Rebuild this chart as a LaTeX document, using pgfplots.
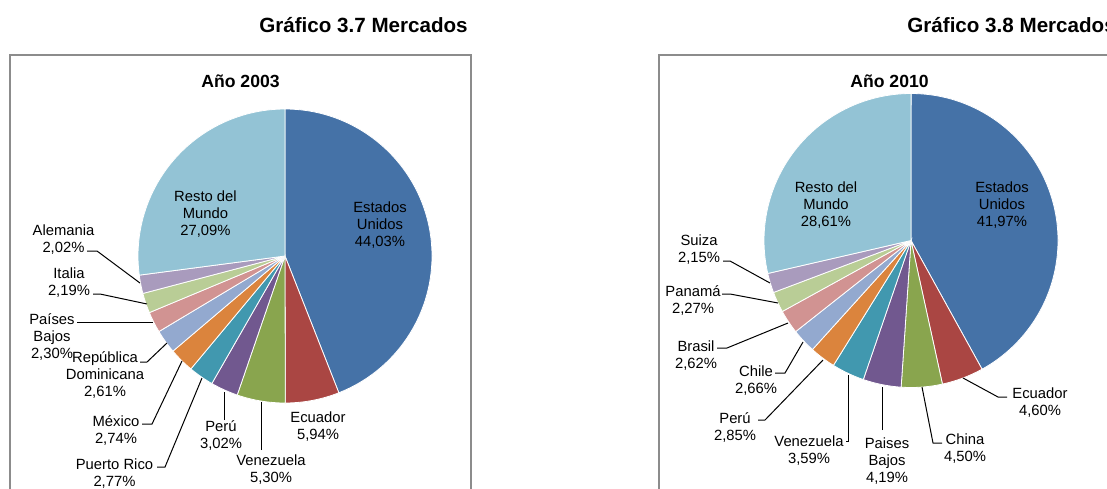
\documentclass[border=0pt]{standalone}
\usepackage{fontspec}
\setmainfont{Liberation Sans}
\usepackage{pgfplots}
\usepackage{pgfplotstable}
\pgfplotsset{compat=1.18}

\definecolor{cA}{HTML}{4572A7}
\definecolor{cB}{HTML}{AA4643}
\definecolor{cC}{HTML}{89A54E}
\definecolor{cD}{HTML}{71588F}
\definecolor{cE}{HTML}{4198AF}
\definecolor{cF}{HTML}{DB843D}
\definecolor{cG}{HTML}{93A9CF}
\definecolor{cH}{HTML}{D19392}
\definecolor{cI}{HTML}{B9CD96}
\definecolor{cJ}{HTML}{A99BBD}
\definecolor{cK}{HTML}{93C3D5}
\definecolor{boxgray}{HTML}{8C8C8C}

% Año 2003
\pgfplotstableread{
value col
44.03 cA
5.94 cB
5.30 cC
3.02 cD
2.77 cE
2.74 cF
2.61 cG
2.30 cH
2.19 cI
2.02 cJ
27.09 cK
}\tabA

% Año 2010
\pgfplotstableread{
value col
41.97 cA
4.60 cB
4.50 cC
4.19 cD
3.59 cE
2.85 cF
2.66 cG
2.62 cH
2.27 cI
2.15 cJ
28.61 cK
}\tabB

\newcommand\buildpie[4]{%
  \gdef#4{}%
  \pgfplotstablegetrowsof{#1}%
  \pgfmathtruncatemacro\pielastrow{\pgfplotsretval-1}%
  \def\piecum{0}%
  \pgfplotsforeachungrouped \pieidx in {0,...,\pielastrow}{%
    \pgfplotstablegetelem{\pieidx}{value}\of#1\let\pieval\pgfplotsretval
    \pgfplotstablegetelem{\pieidx}{col}\of#1\let\piecol\pgfplotsretval
    \pgfmathsetmacro\piestart{90-3.6*\piecum}%
    \pgfmathsetmacro\piecum{\piecum+\pieval}%
    \pgfmathsetmacro\pieend{90-3.6*\piecum}%
    \xdef#4{\unexpanded\expandafter{#4}\noexpand\fill[\piecol,draw=white,line width=0.4pt] (axis cs:#2,#3) -- ++(\piestart:73.5pt) arc[start angle=\piestart,end angle=\pieend,radius=73.5pt] -- cycle;}%
  }%
}

\begin{document}
\buildpie{\tabA}{285}{256}{\pieA}%
\buildpie{\tabB}{911}{240.5}{\pieB}%
\begin{tikzpicture}[
  lbl/.style={font=\fontsize{7.4}{8.5}\selectfont,align=center,inner sep=0pt,text=black},
  ld/.style={draw=black,line width=0.5pt}]
\begin{axis}[at={(0,0)},anchor=south west,
  width=553.5pt,height=244pt,scale only axis,
  xmin=0,xmax=1107,ymin=0,ymax=488,y dir=reverse,
  hide axis,clip=true]
% panel boxes
\draw[boxgray,line width=0.8pt] (axis cs:10,55) rectangle (axis cs:471,520);
\draw[boxgray,line width=0.8pt] (axis cs:659,55) rectangle (axis cs:1130,520);
% titles
\node[anchor=base,font=\fontsize{10.3}{12}\selectfont\bfseries,inner sep=0pt] at (axis cs:363.5,32) {Gráfico 3.7 Mercados};
\node[anchor=base west,font=\fontsize{10.3}{12}\selectfont\bfseries,inner sep=0pt] at (axis cs:907,32) {Gráfico 3.8 Mercados};
\node[anchor=base,font=\fontsize{8.8}{10}\selectfont\bfseries,inner sep=0pt] at (axis cs:240.5,87) {Año 2003};
\node[anchor=base,font=\fontsize{8.8}{10}\selectfont\bfseries,inner sep=0pt] at (axis cs:889.5,87) {Año 2010};
% pies
\pieA
\pieB
% labels 2003
\node[lbl] at (axis cs:380,225) {Estados\\Unidos\\44,03\%};
\node[lbl] at (axis cs:205.5,214) {Resto del\\Mundo\\27,09\%};
\node[lbl] at (axis cs:63.5,240) {Alemania\\2,02\%};
\node[lbl] at (axis cs:69,283) {Italia\\2,19\%};
\node[lbl] at (axis cs:52,337) {Países\\Bajos\\2,30\%};
\node[lbl] at (axis cs:105,375) {República\\Dominicana\\2,61\%};
\node[lbl] at (axis cs:116,430) {México\\2,74\%};
\node[lbl] at (axis cs:114.5,474) {Puerto Rico\\2,77\%};
\node[lbl] at (axis cs:221,435) {Perú\\3,02\%};
\node[lbl] at (axis cs:271,470) {Venezuela\\5,30\%};
\node[lbl] at (axis cs:318,427) {Ecuador\\5,94\%};
\draw[ld] (axis cs:87,251) -- (axis cs:97,251) -- (axis cs:140,283);
\draw[ld] (axis cs:93,294) -- (axis cs:100,294) -- (axis cs:147,304);
\draw[ld] (axis cs:77,322) -- (axis cs:153,322);
\draw[ld] (axis cs:140,362) -- (axis cs:147,362) -- (axis cs:167,343);
\draw[ld] (axis cs:142,424) -- (axis cs:152,424) -- (axis cs:182,361);
\draw[ld] (axis cs:157,467) -- (axis cs:165,467) -- (axis cs:202,378);
\draw[ld] (axis cs:224,420) -- (axis cs:224,392);
\draw[ld] (axis cs:261,450) -- (axis cs:261,402);
% labels 2010
\node[lbl] at (axis cs:1002,205) {Estados\\Unidos\\41,97\%};
\node[lbl] at (axis cs:826,205) {Resto del\\Mundo\\28,61\%};
\node[lbl] at (axis cs:699,250) {Suiza\\2,15\%};
\node[lbl] at (axis cs:693,300) {Panamá\\2,27\%};
\node[lbl] at (axis cs:696,356) {Brasil\\2,62\%};
\node[lbl] at (axis cs:756,381) {Chile\\2,66\%};
\node[lbl] at (axis cs:735,427) {Perú\\2,85\%};
\node[lbl] at (axis cs:809,451) {Venezuela\\3,59\%};
\node[lbl] at (axis cs:887,461) {Paises\\Bajos\\4,19\%};
\node[lbl] at (axis cs:965,449) {China\\4,50\%};
\node[lbl] at (axis cs:1040,403) {Ecuador\\4,60\%};
\draw[ld] (axis cs:723,261) -- (axis cs:730,261) -- (axis cs:770,283);
\draw[ld] (axis cs:722,294) -- (axis cs:730,294) -- (axis cs:778,303);
\draw[ld] (axis cs:717,348) -- (axis cs:727,348) -- (axis cs:788,323);
\draw[ld] (axis cs:775,373) -- (axis cs:785,373) -- (axis cs:803,342);
\draw[ld] (axis cs:758,420) -- (axis cs:765,420) -- (axis cs:823,360);
\draw[ld] (axis cs:846,441) -- (axis cs:848,441) -- (axis cs:848,375);
\draw[ld] (axis cs:882,430) -- (axis cs:882,387);
\draw[ld] (axis cs:942,443) -- (axis cs:933,443) -- (axis cs:922,387);
\draw[ld] (axis cs:1007,397) -- (axis cs:998,397) -- (axis cs:963,378);
\end{axis}
\pgfresetboundingbox
\path (0,0) rectangle (553.5pt,244pt);
\end{tikzpicture}
\end{document}
